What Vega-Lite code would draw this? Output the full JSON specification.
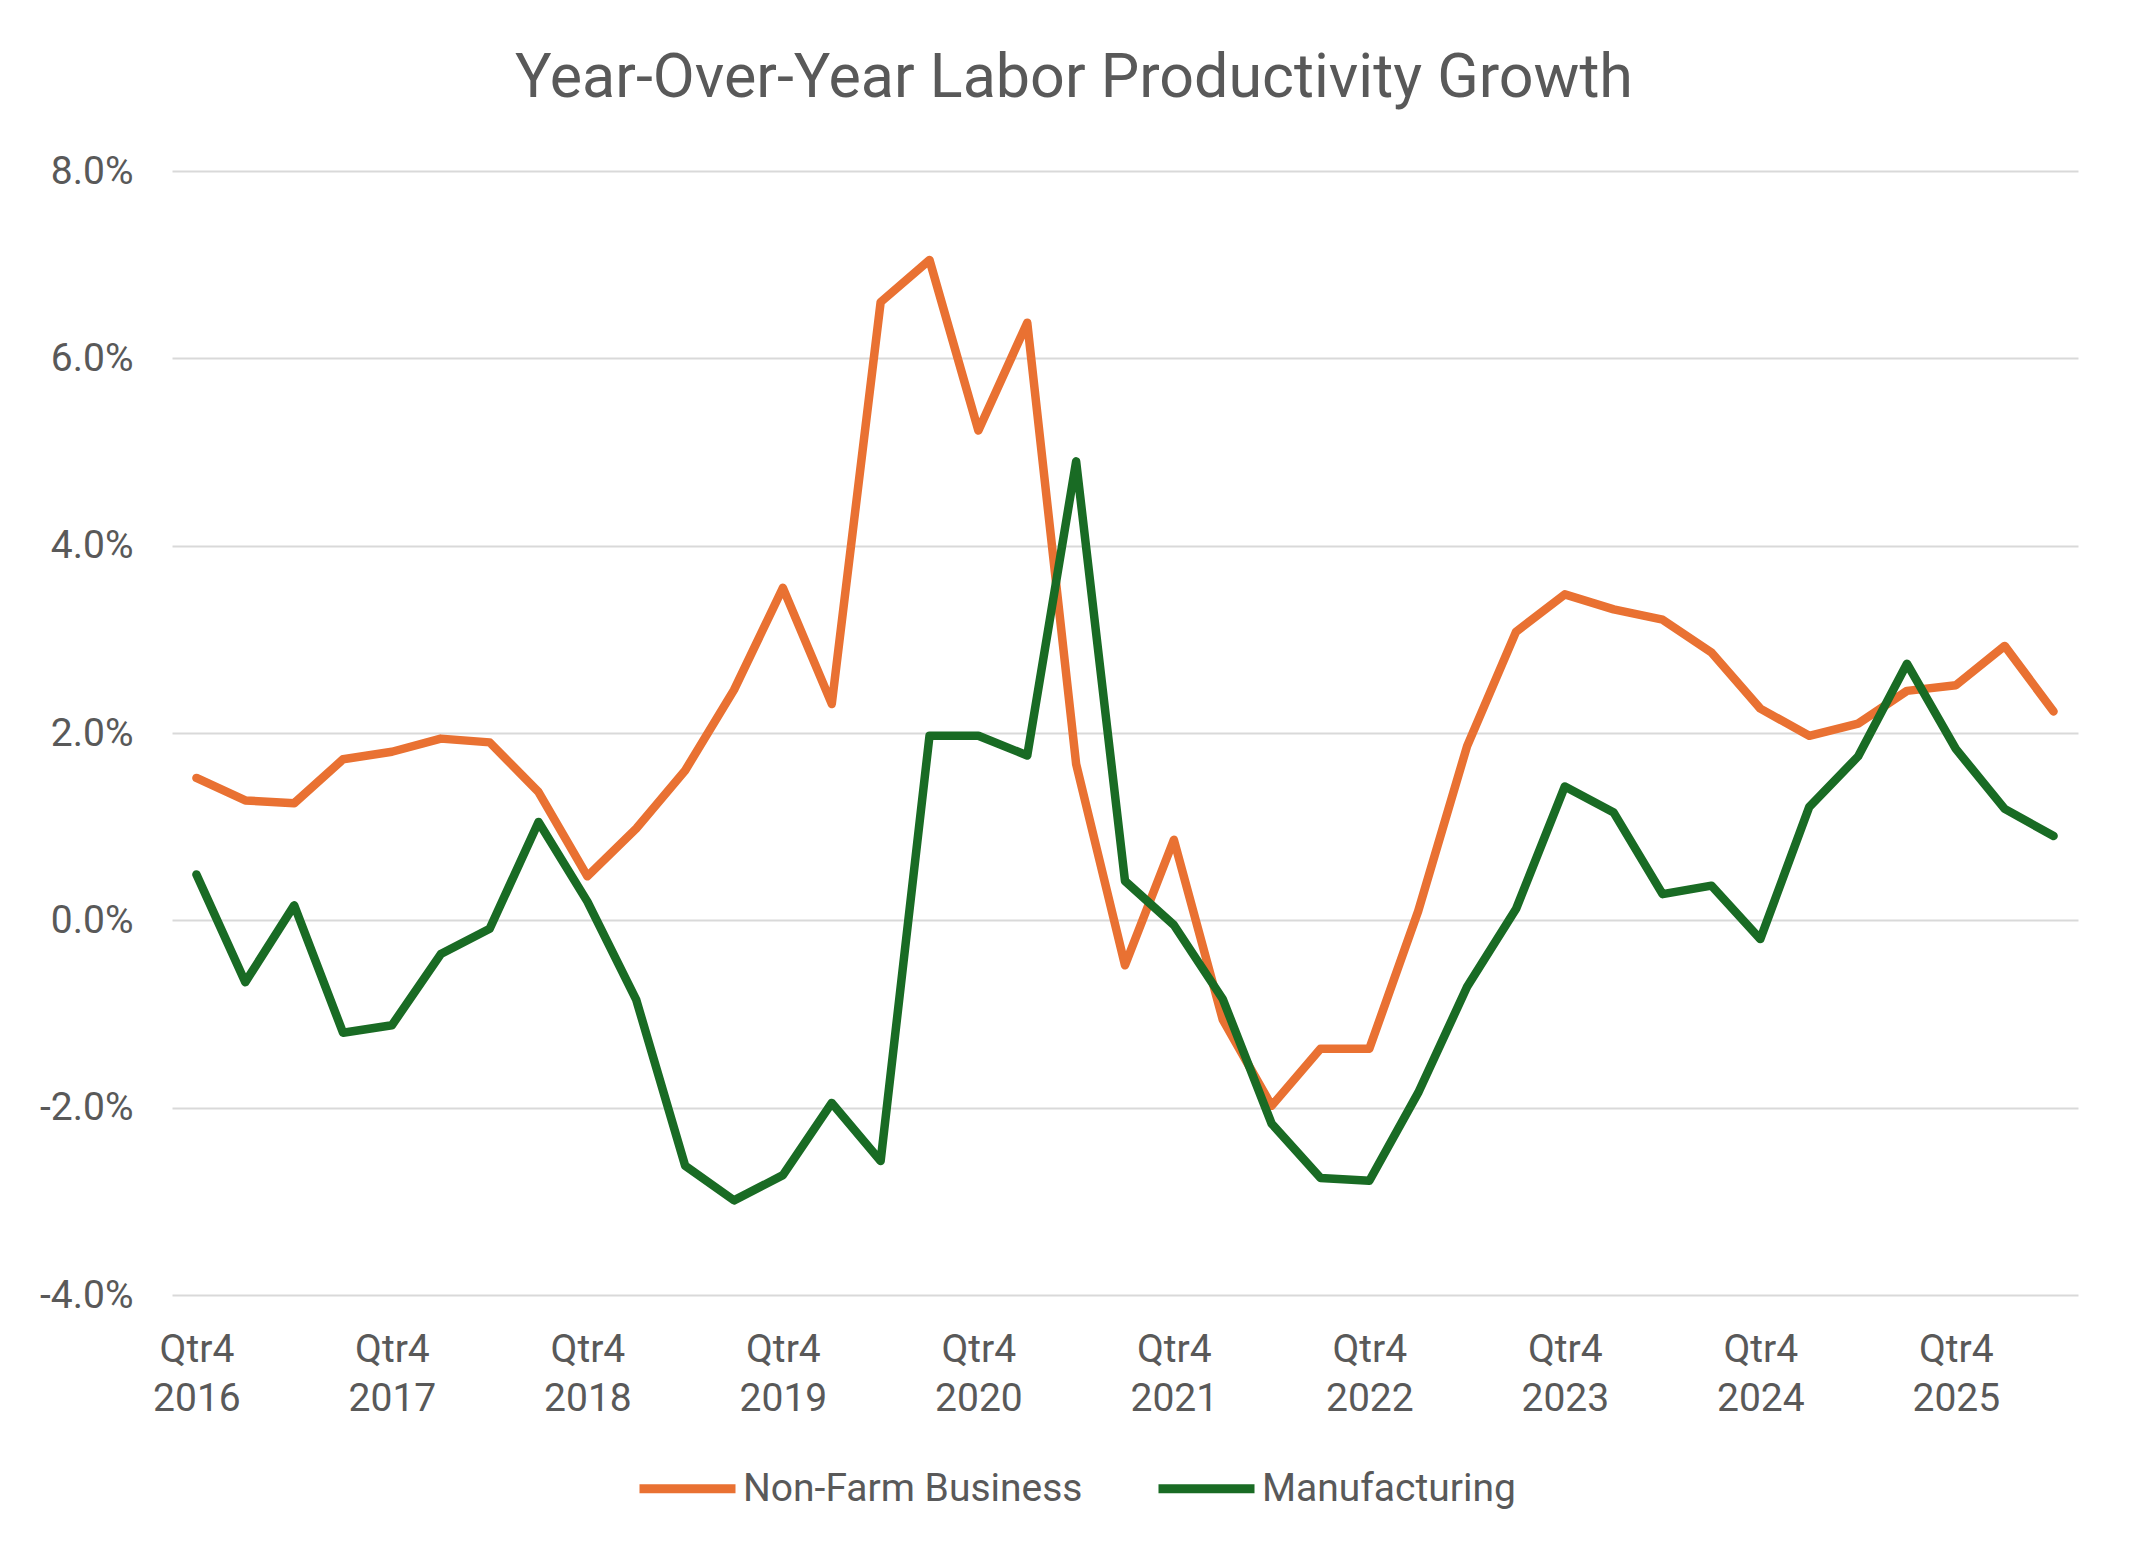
{
  "$schema": "https://vega.github.io/schema/vega-lite/v6.json",
  "autosize": "none",
  "width": 1906,
  "height": 1124,
  "padding": {"left": 172, "top": 171, "right": 70, "bottom": 263},
  "background": "#ffffff",
  "title": {
    "text": "Year-Over-Year Labor Productivity Growth",
    "anchor": "middle",
    "frame": "group",
    "dx": -51,
    "offset": 42,
    "fontSize": 61,
    "font": "Roboto",
    "fontWeight": "normal",
    "color": "#595959"
  },
  "datasets": {
    "growth": [
      {"quarter": "2016 Q4", "series": "Non-Farm Business", "value": 1.52},
      {"quarter": "2017 Q1", "series": "Non-Farm Business", "value": 1.28},
      {"quarter": "2017 Q2", "series": "Non-Farm Business", "value": 1.25},
      {"quarter": "2017 Q3", "series": "Non-Farm Business", "value": 1.72},
      {"quarter": "2017 Q4", "series": "Non-Farm Business", "value": 1.80},
      {"quarter": "2018 Q1", "series": "Non-Farm Business", "value": 1.94},
      {"quarter": "2018 Q2", "series": "Non-Farm Business", "value": 1.90},
      {"quarter": "2018 Q3", "series": "Non-Farm Business", "value": 1.37},
      {"quarter": "2018 Q4", "series": "Non-Farm Business", "value": 0.47},
      {"quarter": "2019 Q1", "series": "Non-Farm Business", "value": 0.98},
      {"quarter": "2019 Q2", "series": "Non-Farm Business", "value": 1.60},
      {"quarter": "2019 Q3", "series": "Non-Farm Business", "value": 2.46},
      {"quarter": "2019 Q4", "series": "Non-Farm Business", "value": 3.55},
      {"quarter": "2020 Q1", "series": "Non-Farm Business", "value": 2.31},
      {"quarter": "2020 Q2", "series": "Non-Farm Business", "value": 6.60},
      {"quarter": "2020 Q3", "series": "Non-Farm Business", "value": 7.05},
      {"quarter": "2020 Q4", "series": "Non-Farm Business", "value": 5.23},
      {"quarter": "2021 Q1", "series": "Non-Farm Business", "value": 6.38},
      {"quarter": "2021 Q2", "series": "Non-Farm Business", "value": 1.67},
      {"quarter": "2021 Q3", "series": "Non-Farm Business", "value": -0.48},
      {"quarter": "2021 Q4", "series": "Non-Farm Business", "value": 0.86},
      {"quarter": "2022 Q1", "series": "Non-Farm Business", "value": -1.06},
      {"quarter": "2022 Q2", "series": "Non-Farm Business", "value": -1.98},
      {"quarter": "2022 Q3", "series": "Non-Farm Business", "value": -1.37},
      {"quarter": "2022 Q4", "series": "Non-Farm Business", "value": -1.37},
      {"quarter": "2023 Q1", "series": "Non-Farm Business", "value": 0.10},
      {"quarter": "2023 Q2", "series": "Non-Farm Business", "value": 1.86},
      {"quarter": "2023 Q3", "series": "Non-Farm Business", "value": 3.08},
      {"quarter": "2023 Q4", "series": "Non-Farm Business", "value": 3.48},
      {"quarter": "2024 Q1", "series": "Non-Farm Business", "value": 3.32},
      {"quarter": "2024 Q2", "series": "Non-Farm Business", "value": 3.21},
      {"quarter": "2024 Q3", "series": "Non-Farm Business", "value": 2.86},
      {"quarter": "2024 Q4", "series": "Non-Farm Business", "value": 2.26},
      {"quarter": "2025 Q1", "series": "Non-Farm Business", "value": 1.97},
      {"quarter": "2025 Q2", "series": "Non-Farm Business", "value": 2.10},
      {"quarter": "2025 Q3", "series": "Non-Farm Business", "value": 2.45},
      {"quarter": "2025 Q4", "series": "Non-Farm Business", "value": 2.51},
      {"quarter": "2026 Q1", "series": "Non-Farm Business", "value": 2.93},
      {"quarter": "2026 Q2", "series": "Non-Farm Business", "value": 2.23},
      {"quarter": "2016 Q4", "series": "Manufacturing", "value": 0.49},
      {"quarter": "2017 Q1", "series": "Manufacturing", "value": -0.66},
      {"quarter": "2017 Q2", "series": "Manufacturing", "value": 0.16},
      {"quarter": "2017 Q3", "series": "Manufacturing", "value": -1.20},
      {"quarter": "2017 Q4", "series": "Manufacturing", "value": -1.12},
      {"quarter": "2018 Q1", "series": "Manufacturing", "value": -0.36},
      {"quarter": "2018 Q2", "series": "Manufacturing", "value": -0.09},
      {"quarter": "2018 Q3", "series": "Manufacturing", "value": 1.05},
      {"quarter": "2018 Q4", "series": "Manufacturing", "value": 0.20},
      {"quarter": "2019 Q1", "series": "Manufacturing", "value": -0.85},
      {"quarter": "2019 Q2", "series": "Manufacturing", "value": -2.62},
      {"quarter": "2019 Q3", "series": "Manufacturing", "value": -2.99},
      {"quarter": "2019 Q4", "series": "Manufacturing", "value": -2.72},
      {"quarter": "2020 Q1", "series": "Manufacturing", "value": -1.95},
      {"quarter": "2020 Q2", "series": "Manufacturing", "value": -2.57},
      {"quarter": "2020 Q3", "series": "Manufacturing", "value": 1.97},
      {"quarter": "2020 Q4", "series": "Manufacturing", "value": 1.97},
      {"quarter": "2021 Q1", "series": "Manufacturing", "value": 1.76},
      {"quarter": "2021 Q2", "series": "Manufacturing", "value": 4.90},
      {"quarter": "2021 Q3", "series": "Manufacturing", "value": 0.42},
      {"quarter": "2021 Q4", "series": "Manufacturing", "value": -0.05},
      {"quarter": "2022 Q1", "series": "Manufacturing", "value": -0.84},
      {"quarter": "2022 Q2", "series": "Manufacturing", "value": -2.17},
      {"quarter": "2022 Q3", "series": "Manufacturing", "value": -2.75},
      {"quarter": "2022 Q4", "series": "Manufacturing", "value": -2.78},
      {"quarter": "2023 Q1", "series": "Manufacturing", "value": -1.84},
      {"quarter": "2023 Q2", "series": "Manufacturing", "value": -0.71},
      {"quarter": "2023 Q3", "series": "Manufacturing", "value": 0.12},
      {"quarter": "2023 Q4", "series": "Manufacturing", "value": 1.43},
      {"quarter": "2024 Q1", "series": "Manufacturing", "value": 1.15},
      {"quarter": "2024 Q2", "series": "Manufacturing", "value": 0.28},
      {"quarter": "2024 Q3", "series": "Manufacturing", "value": 0.37},
      {"quarter": "2024 Q4", "series": "Manufacturing", "value": -0.20},
      {"quarter": "2025 Q1", "series": "Manufacturing", "value": 1.21},
      {"quarter": "2025 Q2", "series": "Manufacturing", "value": 1.75},
      {"quarter": "2025 Q3", "series": "Manufacturing", "value": 2.74},
      {"quarter": "2025 Q4", "series": "Manufacturing", "value": 1.83},
      {"quarter": "2026 Q1", "series": "Manufacturing", "value": 1.19},
      {"quarter": "2026 Q2", "series": "Manufacturing", "value": 0.90}
    ]
  },
  "data": {"name": "growth"},
  "mark": {"type": "line", "strokeWidth": 8.5, "strokeCap": "round", "strokeJoin": "round"},
  "encoding": {
    "x": {
      "field": "quarter",
      "type": "ordinal",
      "scale": {"type": "point", "padding": 0.5},
      "axis": {
        "title": null,
        "domain": false,
        "ticks": false,
        "grid": false,
        "labelAngle": 0,
        "labelOverlap": false,
        "labelFont": "Roboto",
        "labelFontSize": 39,
        "labelColor": "#595959",
        "labelPadding": 35,
        "labelLineHeight": 49,
        "labelBaseline": "top",
        "labelExpr": "slice(datum.value, 5) == 'Q4' ? ['Qtr4', slice(datum.value, 0, 4)] : ''"
      }
    },
    "y": {
      "field": "value",
      "type": "quantitative",
      "scale": {"domain": [-4, 8], "nice": false, "zero": false},
      "axis": {
        "title": null,
        "domain": false,
        "ticks": false,
        "values": [-4, -2, 0, 2, 4, 6, 8],
        "gridColor": "#D9D9D9",
        "gridWidth": 2,
        "labelFont": "Roboto",
        "labelFontSize": 39,
        "labelColor": "#595959",
        "labelPadding": 39,
        "labelExpr": "replace(format(datum.value, '.1f'), '\u2212', '-') + '%'"
      }
    },
    "color": {
      "field": "series",
      "type": "nominal",
      "sort": null,
      "scale": {"domain": ["Non-Farm Business", "Manufacturing"], "range": ["#E97132", "#196B24"]},
      "legend": {
        "title": null,
        "orient": "none",
        "direction": "horizontal",
        "legendX": 463,
        "legendY": 1265,
        "symbolType": "stroke",
        "symbolSize": 9216,
        "symbolStrokeWidth": 9,
        "labelFont": "Roboto",
        "labelFontSize": 39,
        "labelColor": "#595959",
        "labelLimit": 0,
        "labelOffset": 3,
        "columnPadding": 57
      }
    }
  },
  "config": {
    "view": {"stroke": null}
  }
}
